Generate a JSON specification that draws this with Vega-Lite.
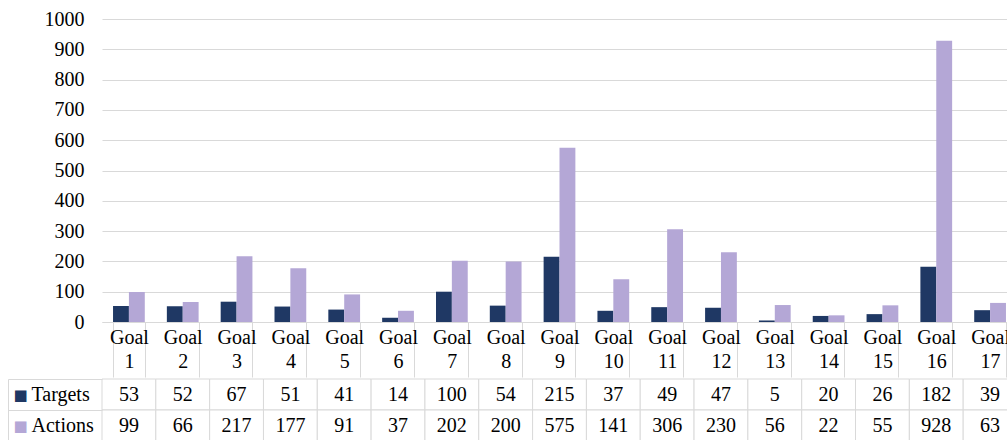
{
  "$schema": "https://vega.github.io/schema/vega-lite/v6.json",
  "padding": {"top": 9, "left": 0, "right": 0, "bottom": 0},
  "background": "white",
  "config": {"view": {"stroke": null}, "font": "Liberation Serif"},
  "datasets": {
    "goals": [
      {"Goal": "Goal 1", "Series": "Targets", "Value": 53},
      {"Goal": "Goal 1", "Series": "Actions", "Value": 99},
      {"Goal": "Goal 2", "Series": "Targets", "Value": 52},
      {"Goal": "Goal 2", "Series": "Actions", "Value": 66},
      {"Goal": "Goal 3", "Series": "Targets", "Value": 67},
      {"Goal": "Goal 3", "Series": "Actions", "Value": 217},
      {"Goal": "Goal 4", "Series": "Targets", "Value": 51},
      {"Goal": "Goal 4", "Series": "Actions", "Value": 177},
      {"Goal": "Goal 5", "Series": "Targets", "Value": 41},
      {"Goal": "Goal 5", "Series": "Actions", "Value": 91},
      {"Goal": "Goal 6", "Series": "Targets", "Value": 14},
      {"Goal": "Goal 6", "Series": "Actions", "Value": 37},
      {"Goal": "Goal 7", "Series": "Targets", "Value": 100},
      {"Goal": "Goal 7", "Series": "Actions", "Value": 202},
      {"Goal": "Goal 8", "Series": "Targets", "Value": 54},
      {"Goal": "Goal 8", "Series": "Actions", "Value": 200},
      {"Goal": "Goal 9", "Series": "Targets", "Value": 215},
      {"Goal": "Goal 9", "Series": "Actions", "Value": 575},
      {"Goal": "Goal 10", "Series": "Targets", "Value": 37},
      {"Goal": "Goal 10", "Series": "Actions", "Value": 141},
      {"Goal": "Goal 11", "Series": "Targets", "Value": 49},
      {"Goal": "Goal 11", "Series": "Actions", "Value": 306},
      {"Goal": "Goal 12", "Series": "Targets", "Value": 47},
      {"Goal": "Goal 12", "Series": "Actions", "Value": 230},
      {"Goal": "Goal 13", "Series": "Targets", "Value": 5},
      {"Goal": "Goal 13", "Series": "Actions", "Value": 56},
      {"Goal": "Goal 14", "Series": "Targets", "Value": 20},
      {"Goal": "Goal 14", "Series": "Actions", "Value": 22},
      {"Goal": "Goal 15", "Series": "Targets", "Value": 26},
      {"Goal": "Goal 15", "Series": "Actions", "Value": 55},
      {"Goal": "Goal 16", "Series": "Targets", "Value": 182},
      {"Goal": "Goal 16", "Series": "Actions", "Value": 928},
      {"Goal": "Goal 17", "Series": "Targets", "Value": 39},
      {"Goal": "Goal 17", "Series": "Actions", "Value": 63}
    ]
  },
  "spacing": 0,
  "vconcat": [
    {
      "data": {"name": "goals"},
      "width": 915,
      "height": 303,
      "mark": {"type": "bar"},
      "encoding": {
        "x": {
          "field": "Goal", "type": "nominal", "sort": null,
          "scale": {"paddingInner": 0.41, "paddingOuter": 0.205},
          "axis": {
            "title": null, "labelAngle": 0,
            "labelExpr": "datum.value ? ['Goal', split(datum.value, ' ')[1]] : ''",
            "labelFont": "Liberation Serif", "labelFontSize": 20, "labelColor": "black",
            "labelBaseline": "top", "labelLineHeight": 24, "labelPadding": -50,
            "labelOverlap": false, "labelBound": false, "labelFlush": false,
            "tickBand": "extent", "tickSize": 55, "tickColor": "#d9d9d9",
            "domainColor": "#d9d9d9", "minExtent": 55, "maxExtent": 55
          }
        },
        "xOffset": {
          "field": "Series", "type": "nominal", "sort": ["Targets", "Actions"],
          "scale": {"paddingInner": 0, "paddingOuter": 0}
        },
        "y": {
          "field": "Value", "type": "quantitative",
          "scale": {"domain": [0, 1000]},
          "axis": {
            "title": null, "values": [0, 100, 200, 300, 400, 500, 600, 700, 800, 900, 1000],
            "format": "d",
            "ticks": false, "domain": false, "gridColor": "#d9d9d9",
            "labelFont": "Liberation Serif", "labelFontSize": 20, "labelColor": "black",
            "labelPadding": 18, "minExtent": 102, "maxExtent": 102
          }
        },
        "color": {
          "field": "Series", "type": "nominal",
          "scale": {"domain": ["Targets", "Actions"], "range": ["#1F3864", "#B4A7D6"]},
          "legend": null
        }
      }
    },
    {
      "data": {"name": "goals"},
      "width": 915,
      "height": 62,
      "resolve": {"axis": {"y": "independent"}},
      "layer": [
        {
          "mark": {"type": "rect", "fill": "white", "stroke": "#d9d9d9", "strokeWidth": 1},
          "encoding": {
            "x": {"field": "Goal", "type": "nominal", "sort": null, "scale": {"paddingInner": 0, "paddingOuter": 0}, "axis": null},
            "y": {
              "field": "Series", "type": "nominal", "sort": ["Targets", "Actions"],
              "scale": {"paddingInner": 0, "paddingOuter": 0},
              "axis": {
                "orient": "left", "title": null, "domain": false,
                "ticks": true, "tickBand": "extent", "tickSize": 94, "tickColor": "#d9d9d9",
                "labelExpr": "datum.value ? datum.label : ''",
                "labelAlign": "left", "labelPadding": -23, "labelBaseline": "middle",
                "labelFont": "Liberation Serif",
                "labelFontSize": {"condition": {"test": "!datum.value", "value": 0}, "value": 20},
                "labelColor": "black",
                "labelBound": false, "labelOverlap": false,
                "minExtent": 102, "maxExtent": 102
              }
            }
          }
        },
        {
          "mark": {"type": "text", "fontSize": 20, "font": "Liberation Serif", "color": "black"},
          "encoding": {
            "x": {"field": "Goal", "type": "nominal", "sort": null, "axis": null},
            "y": {
              "field": "Series", "type": "nominal", "sort": ["Targets", "Actions"],
              "axis": {
                "orient": "left", "title": null, "offset": 94,
                "domain": true, "domainColor": "#d9d9d9",
                "ticks": false, "tickSize": 0,
                "labelExpr": "'■'", "labelAlign": "center", "labelPadding": -12,
                "labelBaseline": "middle",
                "labelFont": "DejaVu Sans", "labelFontSize": 15,
                "labelColor": {"condition": {"test": "datum.value === 'Targets'", "value": "#1F3864"}, "value": "#B4A7D6"},
                "labelBound": false, "labelOverlap": false,
                "minExtent": 0, "maxExtent": 102
              }
            },
            "text": {"field": "Value", "type": "quantitative"}
          }
        }
      ]
    }
  ]
}
